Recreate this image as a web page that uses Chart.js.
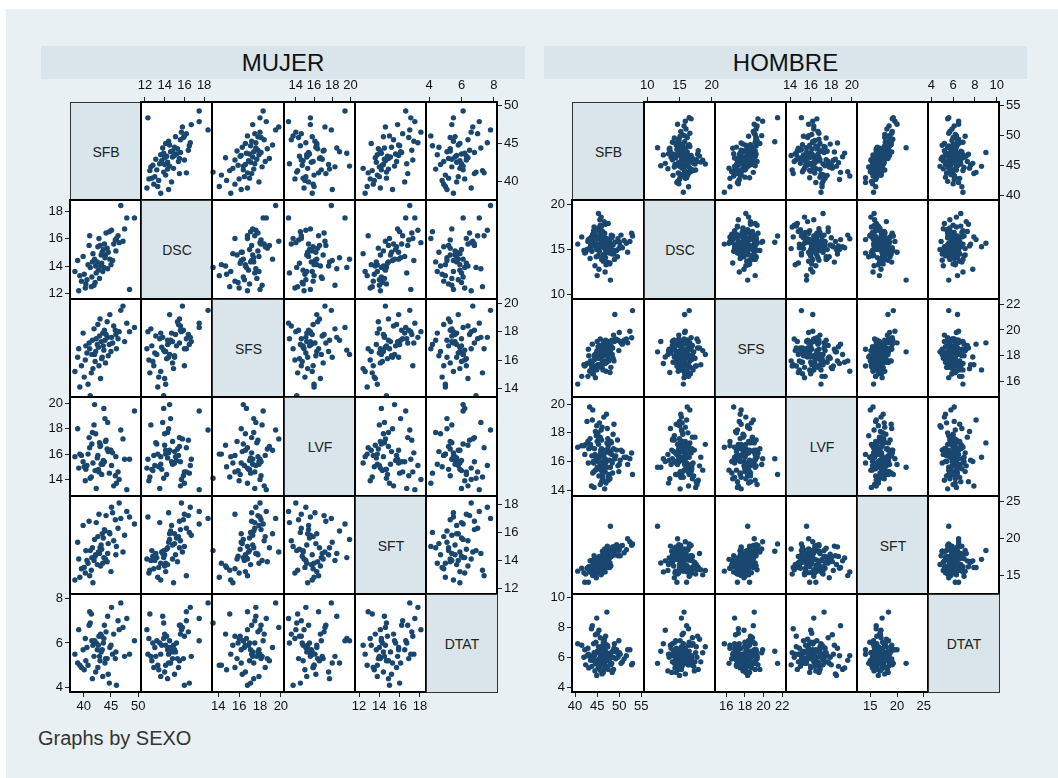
<!DOCTYPE html>
<html>
<head>
<meta charset="utf-8">
<script src="https://cdn.jsdelivr.net/npm/chart.js@4.4.1/dist/chart.umd.min.js"></script>
<style>
  body { margin: 0; background: #fff; font-family: "Liberation Sans", Arial, sans-serif; }
  #region { position: absolute; left: 6px; top: 9px; width: 1052px; height: 769px; background: #e8f0f3; }
  .bar { position: absolute; top: 46px; height: 33px; line-height: 33px; background: #d9e5eb;
         font-size: 24px; color: #111; text-align: center; }
  .diag { position: absolute; box-sizing: border-box; background: #d9e5eb; border: 1px solid #333;
          font-size: 14px; color: #222; display: flex; align-items: center; justify-content: center; }
  canvas { position: absolute; }
  #note { position: absolute; left: 38px; top: 728px; font-size: 20px; line-height: 20px; color: #333; }
</style>
</head>
<body>
<div id="region"></div>
<div class="bar" style="left:41px;width:484px">MUJER</div>
<div class="bar" style="left:544px;width:483px">HOMBRE</div>
<div id="note">Graphs by SEXO</div>
<script>
const varNames = ['SFB', 'DSC', 'SFS', 'LVF', 'SFT', 'DTAT'];

// MUJER
const sfbM = [43.2,41.5,45.8,39.6,44.1,42.7,47.9,40.8,43.6,41.9,
  46.3,38.4,42.2,44.8,40.3,45.1,43.0,41.2,49.3,42.5,
  44.5,39.1,43.9,46.8,41.7,42.9,45.5,40.1,43.3,48.4,
  41.0,44.3,42.1,46.0,39.9,43.7,45.3,41.4,42.6,47.2,
  40.6,44.7,43.1,38.9,45.9,42.3,41.1,44.0,46.5,43.5,
  42.0,40.4,45.0,43.8,41.6,47.5,42.8,39.3,44.4,43.4];
const dscM = [14.8,13.2,15.9,12.9,16.4,13.7,17.5,14.1,15.2,12.6,
  16.2,13.6,14.0,14.5,12.4,16.6,15.5,13.9,17.5,14.3,
  15.0,12.2,14.6,18.4,14.9,13.1,15.6,13.4,14.2,12.3,
  15.5,15.3,12.8,16.0,14.7,13.9,14.4,12.5,15.4,15.8,
  13.0,16.5,14.0,14.4,15.1,13.5,16.2,14.8,15.7,13.6,
  14.5,12.7,14.1,15.6,14.3,16.7,16.0,13.3,13.8,15.0];
const sfsM = [17.3,16.4,18.1,15.6,17.8,16.9,18.6,14.3,17.0,18.2,
  17.5,15.2,16.6,19.2,16.0,17.6,18.9,13.5,18.3,17.1,
  16.3,16.8,17.4,19.5,15.4,17.7,18.4,14.8,16.1,18.0,
  17.2,18.7,15.9,16.8,17.9,16.7,17.2,15.1,18.5,19.8,
  16.5,17.1,14.7,16.2,17.8,17.5,16.8,15.8,18.0,17.9,
  16.4,17.0,16.6,18.1,17.4,17.3,15.6,14.1,17.6,16.2];
const lvfM = [15.2,16.8,14.3,15.9,17.1,14.8,13.2,16.0,15.5,18.3,
  14.6,15.8,17.6,16.3,13.9,15.1,16.6,14.1,19.4,15.7,
  16.2,14.9,18.8,17.9,15.3,16.9,13.5,15.0,14.4,15.6,
  17.3,16.4,14.7,13.7,15.4,19.6,16.1,14.2,15.9,17.2,
  15.1,14.5,16.7,18.0,15.8,13.3,16.5,17.0,14.0,15.2,
  19.9,14.8,16.3,15.4,17.7,15.6,14.6,16.0,18.5,15.3];
const sftM = [15.1,14.2,16.9,13.4,17.2,14.6,17.5,13.8,15.6,14.0,
  16.3,12.6,14.4,15.9,13.1,17.8,14.9,14.7,16.6,13.7,
  15.2,14.1,16.1,17.0,12.4,14.5,15.4,13.5,14.8,17.1,
  16.8,13.9,14.3,15.0,16.5,14.2,17.4,13.3,15.7,14.6,
  14.0,16.0,13.6,15.3,14.4,16.7,12.9,14.1,18.1,13.8,
  15.5,14.7,13.2,16.2,14.9,15.8,17.3,12.8,14.5,15.9];
const dtatM = [5.6,6.1,5.3,4.9,6.5,5.9,7.1,5.0,6.0,5.4,
  7.0,5.5,4.7,5.8,6.2,7.6,5.2,6.9,6.1,5.7,
  4.6,6.6,5.1,7.8,5.9,5.4,6.4,4.8,6.3,5.5,
  6.8,5.3,6.0,4.1,5.7,6.2,5.5,7.3,4.9,6.7,
  5.8,4.2,6.4,5.1,5.6,6.0,7.4,5.3,6.6,4.5,
  6.1,5.2,5.9,6.8,4.4,5.4,6.3,5.0,7.2,5.7];

// HOMBRE
const sfbH = [46.2,44.8,48.5,43.1,47.3,45.6,50.2,46.9,42.4,47.8,
  45.1,49.4,46.5,44.2,51.6,46.0,43.7,47.1,45.9,48.8,
  40.6,46.7,44.5,47.6,45.3,52.4,46.3,43.9,48.1,45.0,
  47.0,44.0,49.9,46.4,42.9,45.7,48.3,46.8,44.6,51.1,
  45.4,47.4,43.4,46.1,49.0,44.9,47.9,45.8,42.0,46.6,
  48.6,45.2,46.3,50.7,44.3,47.2,45.5,43.3,48.0,46.0,
  44.7,47.7,45.9,52.8,46.4,43.6,47.5,45.1,49.6,46.8,
  42.7,46.5,48.4,45.3,44.1,47.0,50.4,46.2,45.7,43.8,
  47.3,45.0,48.9,46.7,44.4,51.9,46.1,45.6,47.6,41.5,
  46.9,44.6,48.2,45.4,47.1,43.0,49.2,46.3,45.8,47.4,
  44.0,46.6,50.0,45.2,47.8,43.5,46.0,48.7,45.9,44.9,
  47.5,46.2,42.2,49.7,45.5,46.8,44.3,48.1,46.4,53.0];
const dscH = [15.8,14.2,16.5,15.1,13.6,16.9,15.4,17.8,14.7,15.9,
  16.2,14.9,15.3,17.1,15.7,13.9,16.4,15.0,18.6,14.5,
  15.6,16.8,13.2,15.2,17.4,15.9,14.4,16.1,15.5,12.1,
  14.8,16.6,15.1,13.8,15.9,17.7,16.3,14.6,15.4,16.0,
  17.2,15.3,14.0,16.7,15.8,15.0,13.5,16.4,14.9,18.1,
  15.5,14.3,16.9,15.2,17.5,15.7,14.8,16.2,11.6,15.9,
  16.5,14.6,15.3,16.8,13.7,15.1,17.9,15.6,14.2,16.3,
  15.0,16.1,14.5,19.0,15.8,13.3,16.6,15.4,17.0,14.8,
  16.2,15.5,13.9,15.1,16.9,14.7,15.9,18.3,15.3,16.4,
  14.1,15.7,16.6,12.8,15.2,16.1,14.9,15.6,17.3,15.0,
  16.7,14.4,15.8,16.3,13.4,15.5,17.6,14.9,16.0,15.3,
  15.9,17.0,14.6,16.2,15.4,12.5,16.8,15.1,14.3,16.5];
const sfsH = [17.5,17.9,18.6,18.0,18.5,17.9,19.1,18.6,17.3,18.2,
  18.3,19.2,18.1,16.9,19.3,18.8,17.3,17.5,18.4,17.6,
  15.8,18.5,18.1,17.6,17.8,19.9,17.5,18.9,17.1,19.1,
  16.8,17.6,18.4,18.5,16.4,19.3,19.2,18.3,17.0,19.2,
  18.3,18.1,17.5,17.1,21.2,18.3,16.7,17.8,17.3,18.6,
  17.8,18.7,18.0,18.9,17.2,19.0,17.8,16.8,18.3,17.3,
  18.0,18.3,17.2,19.4,18.2,16.9,19.1,17.3,19.2,18.5,
  17.4,19.1,18.1,18.1,16.6,18.4,19.0,17.5,18.8,17.1,
  18.0,18.4,19.1,17.6,17.7,19.0,18.3,17.3,18.6,16.4,
  19.2,16.3,18.6,17.9,17.5,18.5,19.3,16.9,17.8,18.8,
  16.6,18.4,19.8,17.1,18.5,17.6,17.2,19.6,18.1,16.9,
  17.8,18.1,17.2,19.2,18.7,17.4,18.0,18.8,18.9,21.5];
const lvfH = [16.4,17.8,15.2,16.9,18.3,15.7,16.1,14.6,17.2,16.6,
  15.5,16.8,19.1,15.9,16.3,17.5,14.3,16.0,15.4,18.6,
  17.0,15.8,16.5,14.9,17.7,16.2,15.1,18.9,16.7,15.6,
  16.1,19.6,15.3,16.8,17.4,14.4,16.5,15.9,18.1,16.3,
  15.0,16.9,17.6,15.4,16.2,18.5,14.8,16.6,17.1,15.7,
  17.9,16.0,15.5,16.7,14.2,17.3,16.4,19.8,15.6,16.9,
  16.3,15.1,18.2,16.6,15.8,17.0,14.7,16.1,17.5,15.3,
  18.8,16.5,15.9,17.2,16.0,14.5,16.8,15.2,17.7,16.4,
  15.6,17.4,16.2,14.1,16.9,15.8,18.4,16.3,15.0,17.1,
  16.7,15.4,17.3,16.0,19.3,15.9,16.4,14.9,16.8,17.6,
  15.2,16.6,15.8,18.0,16.1,17.2,14.6,16.9,15.5,16.3,
  17.1,14.8,16.5,15.7,18.7,16.2,15.3,17.4,16.0,15.1];
const sftH = [18.3,14.7,18.9,16.2,19.0,15.4,17.7,16.2,15.2,16.1,
  16.0,19.2,17.0,16.2,18.5,16.7,16.1,18.4,15.1,18.9,
  15.6,17.1,15.7,16.9,16.7,19.6,17.8,16.1,16.3,16.7,
  17.7,15.0,18.4,18.3,16.0,15.8,18.6,17.2,16.9,18.1,
  16.0,18.0,17.0,15.3,18.3,16.5,16.7,17.1,15.4,18.0,
  17.9,15.4,17.7,19.1,15.2,18.4,17.2,15.5,21.7,15.8,
  14.9,18.4,15.7,19.1,17.3,17.0,16.1,16.8,18.7,18.5,
  16.0,16.4,18.3,15.7,16.5,16.5,19.0,16.8,17.0,15.4,
  16.2,16.8,17.8,18.6,15.7,20.0,17.7,15.8,17.5,16.0,
  16.3,17.2,17.6,17.0,17.4,14.1,19.0,16.5,16.8,17.5,
  17.1,15.6,18.6,17.4,17.4,16.2,16.5,18.2,15.7,17.2,
  17.2,17.6,14.1,17.7,17.6,15.5,17.7,17.6,17.3,19.3];
const dtatH = [6.1,5.6,6.4,5.3,6.8,5.9,6.2,7.4,5.5,6.0,
  5.8,6.5,5.2,6.9,6.1,5.7,7.9,5.4,6.3,6.6,
  6.9,6.0,5.1,6.2,5.7,6.5,5.9,8.1,5.5,6.4,
  6.3,5.8,7.1,5.0,6.6,6.0,5.6,6.2,7.5,5.9,
  5.4,6.7,6.1,5.8,6.4,4.8,6.2,5.5,6.0,7.2,
  6.0,5.3,6.8,5.7,6.3,9.0,5.9,6.1,5.6,6.5,
  7.0,5.8,6.2,5.5,6.6,6.0,5.2,7.6,6.3,5.7,
  6.1,6.4,5.0,6.7,5.9,6.2,5.6,6.0,7.3,5.4,
  5.8,6.3,6.9,5.5,6.1,6.5,4.9,5.7,6.2,6.8,
  6.4,5.6,6.0,7.8,5.3,6.2,5.9,6.6,5.1,6.1,
  5.9,7.1,6.3,5.5,6.0,5.8,6.7,5.2,6.4,8.6,
  6.2,5.7,6.5,6.0,5.4,6.9,5.8,6.3,7.0,5.6];

// axis ticks per variable
const ticksM = [[40,45,50],[12,14,16,18],[14,16,18,20],[14,16,18,20],[12,14,16,18],[4,6,8]];
const ticksH = [[40,45,50,55],[10,15,20],[16,18,20,22],[14,16,18,20],[15,20,25],[4,6,8,10]];
// axis extents per variable
const rangeM = [[37.5,50.5],[11.6,18.8],[13.4,20.3],[12.7,20.5],[11.6,18.6],[3.8,8.2]];
const rangeH = [[39.3,55.6],[9.5,20.5],[14.8,22.4],[13.6,20.5],[12.5,25.8],[3.7,10.2]];

const MARKER = '#1a476f';
const TOP = 102, CELL_H = 98.4;
const AX = 28, PAD = 6;
const FONT = { family: '"Liberation Sans", Arial, sans-serif', size: 13 };

const panels = [
  { x0: 70, w: 71.17, vars: [sfbM, dscM, sfsM, lvfM, sftM, dtatM], ticks: ticksM, ranges: rangeM },
  { x0: 572.4, w: 71.1, vars: [sfbH, dscH, sfsH, lvfH, sftH, dtatH], ticks: ticksH, ranges: rangeH }
];

// white plot area and black frame around every cell
const cellFrame = {
  id: 'cellFrame',
  beforeDraw(chart) {
    const { ctx, chartArea: a } = chart;
    ctx.save();
    ctx.fillStyle = '#fff';
    ctx.fillRect(a.left, a.top, a.width, a.height);
    ctx.restore();
  },
  afterDraw(chart) {
    const { ctx, chartArea: a } = chart;
    ctx.save();
    ctx.strokeStyle = '#000';
    ctx.lineWidth = 2;
    ctx.strokeRect(a.left, a.top, a.width, a.height);
    ctx.restore();
  }
};

function axis(pos, shown, range, ticks) {
  const horiz = pos === 'top' || pos === 'bottom';
  const size = shown ? AX : 0;
  return {
    type: 'linear',
    position: pos,
    display: shown,
    min: range[0],
    max: range[1],
    afterBuildTicks: s => { s.ticks = ticks.map(v => ({ value: v })); },
    afterFit: s => {
      if (horiz) s.height = size; else s.width = size;
      // keep the plot area exactly on the cell: no room reserved for edge labels
      s.paddingTop = s.paddingBottom = s.paddingLeft = s.paddingRight = 0;
    },
    grid: { drawOnChartArea: false, drawTicks: true, tickLength: 5, color: '#222', lineWidth: 1 },
    border: { display: false },
    ticks: {
      autoSkip: false, maxRotation: 0, color: '#111', font: FONT,
      padding: pos === 'top' ? 4 : 2
    }
  };
}

panels.forEach(p => {
  for (let r = 0; r < 6; r++) {
    for (let c = 0; c < 6; c++) {
      const L = Math.round(p.x0 + c * p.w), R = Math.round(p.x0 + (c + 1) * p.w);
      const T = Math.round(TOP + r * CELL_H), B = Math.round(TOP + (r + 1) * CELL_H);

      if (r === c) {
        const d = document.createElement('div');
        d.className = 'diag';
        d.style.left = L + 'px'; d.style.top = T + 'px';
        d.style.width = (R - L + 1) + 'px'; d.style.height = (B - T + 1) + 'px';
        d.textContent = varNames[r];
        document.body.appendChild(d);
        continue;
      }

      const xTop = r === 0 && c % 2 === 1;
      const xBot = r === 5 && c % 2 === 0;
      const yLeft = c === 0 && r % 2 === 1;
      const yRight = c === 5 && r % 2 === 0;
      const mT = xTop ? AX : PAD, mB = xBot ? AX : PAD;
      const mL = yLeft ? AX : PAD, mR = yRight ? AX : PAD;

      const cv = document.createElement('canvas');
      const W = R - L + mL + mR, H = B - T + mT + mB;
      cv.width = W; cv.height = H;
      cv.style.left = (L - mL) + 'px'; cv.style.top = (T - mT) + 'px';
      cv.style.width = W + 'px'; cv.style.height = H + 'px';
      document.body.appendChild(cv);

      const xs = p.vars[c], ys = p.vars[r];
      new Chart(cv, {
        type: 'scatter',
        data: {
          datasets: [{
            data: xs.map((x, i) => ({ x: x, y: ys[i] })),
            backgroundColor: MARKER,
            borderWidth: 0,
            pointRadius: 2.7,
            clip: 2
          }]
        },
        options: {
          responsive: false,
          animation: false,
          events: [],
          layout: {
            autoPadding: false,
            padding: { top: xTop ? 0 : PAD, bottom: xBot ? 0 : PAD, left: yLeft ? 0 : PAD, right: yRight ? 0 : PAD }
          },
          plugins: { legend: { display: false }, tooltip: { enabled: false } },
          scales: {
            x: axis(c % 2 === 1 ? 'top' : 'bottom', xTop || xBot, p.ranges[c], p.ticks[c]),
            y: axis(r % 2 === 1 ? 'left' : 'right', yLeft || yRight, p.ranges[r], p.ticks[r])
          }
        },
        plugins: [cellFrame]
      });
    }
  }
});
</script>
</body>
</html>
